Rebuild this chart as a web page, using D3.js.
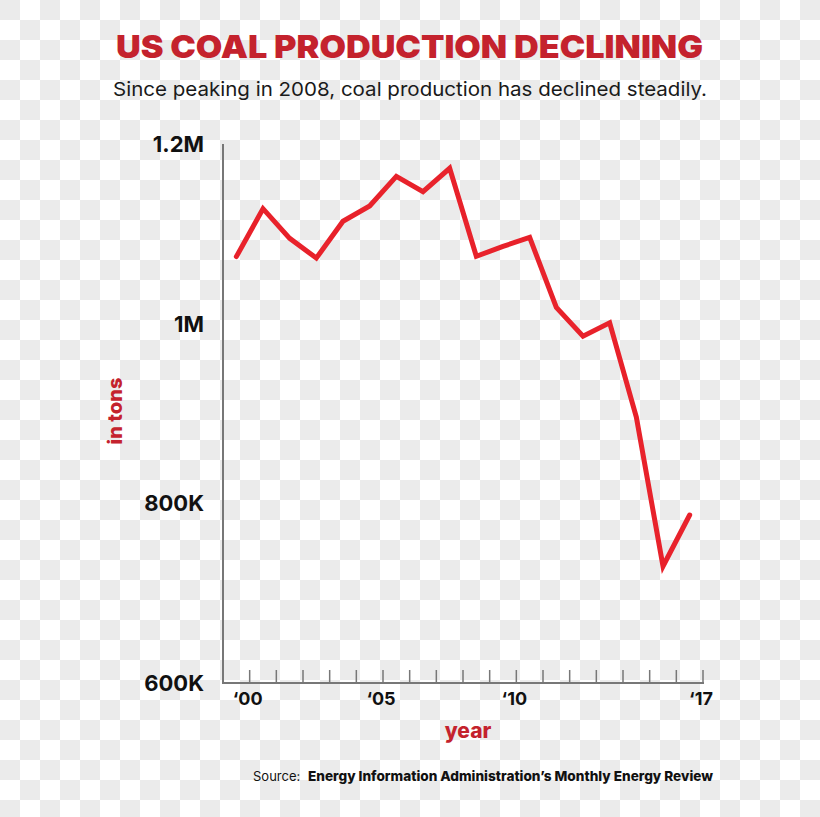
<!DOCTYPE html>
<html>
<head>
<meta charset="utf-8">
<script src="https://cdn.jsdelivr.net/npm/d3@7"></script>
<style>
  html, body { margin: 0; padding: 0; background: #fff; }
  svg { display: block; }
  text { font-family: Inter, "Noto Sans", sans-serif; }
</style>
</head>
<body>
<div id="chart"></div>
<script>
// US coal production, thousand short tons -> tons shown as K / M
var years = [2000, 2001, 2002, 2003, 2004, 2005, 2006, 2007, 2008,
             2009, 2010, 2011, 2012, 2013, 2014, 2015, 2016, 2017];
var production = [1074600, 1128000, 1095000, 1073000, 1114000, 1131000, 1164000, 1147000, 1173000,
                  1075000, 1086000, 1096000, 1018000, 986000, 1001000, 896000, 730000, 787000];
var yTicks = [600000, 800000, 1000000, 1200000];
var yTickLabels = ["600K", "800K", "1M", "1.2M"];
var xLabelYears = [2000, 2005, 2010, 2017];
var xLabelText = ["\u201800", "\u201805", "\u201810", "\u201817"];

var width = 820,
    height = 817;

var svg = d3.select("#chart")
    .append("svg")
    .attr("width", width)
    .attr("height", height);

// checkerboard background (transparent look)
var pat = svg.append("defs").append("pattern")
    .attr("id", "checker")
    .attr("width", 40).attr("height", 40)
    .attr("patternUnits", "userSpaceOnUse");
pat.append("rect").attr("width", 40).attr("height", 40).attr("fill", "#ffffff");
pat.append("rect").attr("width", 20).attr("height", 20).attr("fill", "#ebebeb");
pat.append("rect").attr("x", 20).attr("y", 20).attr("width", 20).attr("height", 20).attr("fill", "#ebebeb");
svg.append("rect").attr("width", width).attr("height", height).attr("fill", "url(#checker)");

// scales: ticks sit half a year to the right of each point
var x = d3.scaleLinear().domain([1999.5, 2017.5]).range([223, 703]);
var y = d3.scaleLinear().domain([600000, 1200000]).range([683, 144]);

// title
svg.append("text")
    .attr("x", 116).attr("y", 58)
    .attr("textLength", 587)
    .attr("lengthAdjust", "spacingAndGlyphs")
    .attr("fill", "#c4222d")
    .attr("font-size", 32)
    .attr("font-weight", 900)
    .text("US COAL PRODUCTION DECLINING");

svg.append("text")
    .attr("x", 113).attr("y", 96)
    .attr("textLength", 594)
    .attr("lengthAdjust", "spacingAndGlyphs")
    .attr("fill", "#1a1a1a")
    .attr("font-size", 19)
    .text("Since peaking in 2008, coal production has declined steadily.");

// axes
var g = svg.append("g");

g.append("line")
    .attr("x1", x(1999.5)).attr("x2", x(1999.5))
    .attr("y1", y(1200000)).attr("y2", y(600000))
    .attr("stroke", "#777").attr("stroke-width", 2);

g.append("line")
    .attr("x1", x(1999.5) - 1).attr("x2", x(2017.5) + 1)
    .attr("y1", y(600000)).attr("y2", y(600000))
    .attr("stroke", "#777").attr("stroke-width", 2);

g.selectAll(".xtick")
    .data(years)
    .enter().append("line")
    .attr("class", "xtick")
    .attr("x1", function (d) { return x(d + 0.5); })
    .attr("x2", function (d) { return x(d + 0.5); })
    .attr("y1", y(600000))
    .attr("y2", y(600000) - 13)
    .attr("stroke", "#777").attr("stroke-width", 1.5);

g.selectAll(".xlabel")
    .data(xLabelYears)
    .enter().append("text")
    .attr("class", "xlabel")
    .attr("x", function (d) { return x(d + 0.5) - 2; })
    .attr("y", 705)
    .attr("text-anchor", "middle")
    .attr("font-size", 18)
    .attr("font-weight", 700)
    .attr("fill", "#111")
    .text(function (d, i) { return xLabelText[i]; });

g.selectAll(".ylabel")
    .data(yTicks)
    .enter().append("text")
    .attr("class", "ylabel")
    .attr("x", 204)
    .attr("y", function (d) { return y(d) + 8; })
    .attr("text-anchor", "end")
    .attr("font-size", 22)
    .attr("font-weight", 700)
    .attr("fill", "#111")
    .text(function (d, i) { return yTickLabels[i]; });

// axis titles
svg.append("text")
    .attr("x", 468).attr("y", 738)
    .attr("text-anchor", "middle")
    .attr("font-size", 21)
    .attr("font-weight", 800)
    .attr("fill", "#c4222d")
    .text("year");

svg.append("text")
    .attr("transform", "translate(122,411) rotate(-90)")
    .attr("text-anchor", "middle")
    .attr("font-size", 20)
    .attr("font-weight", 800)
    .attr("fill", "#c4222d")
    .text("in tons");

// the line
var line = d3.line()
    .x(function (d, i) { return x(years[i]); })
    .y(function (d) { return y(d); });

svg.append("path")
    .datum(production)
    .attr("d", line)
    .attr("fill", "none")
    .attr("stroke", "#e8222b")
    .attr("stroke-width", 5)
    .attr("stroke-linejoin", "miter")
    .attr("stroke-linecap", "round");

// source
svg.append("text")
    .attr("x", 253).attr("y", 781)
    .attr("font-size", 13)
    .attr("fill", "#111")
    .text("Source:");

svg.append("text")
    .attr("x", 308).attr("y", 781)
    .attr("textLength", 405)
    .attr("lengthAdjust", "spacingAndGlyphs")
    .attr("font-size", 13.5)
    .attr("font-weight", 800)
    .attr("fill", "#111")
    .text("Energy Information Administration\u2019s Monthly Energy Review");
</script>
</body>
</html>
